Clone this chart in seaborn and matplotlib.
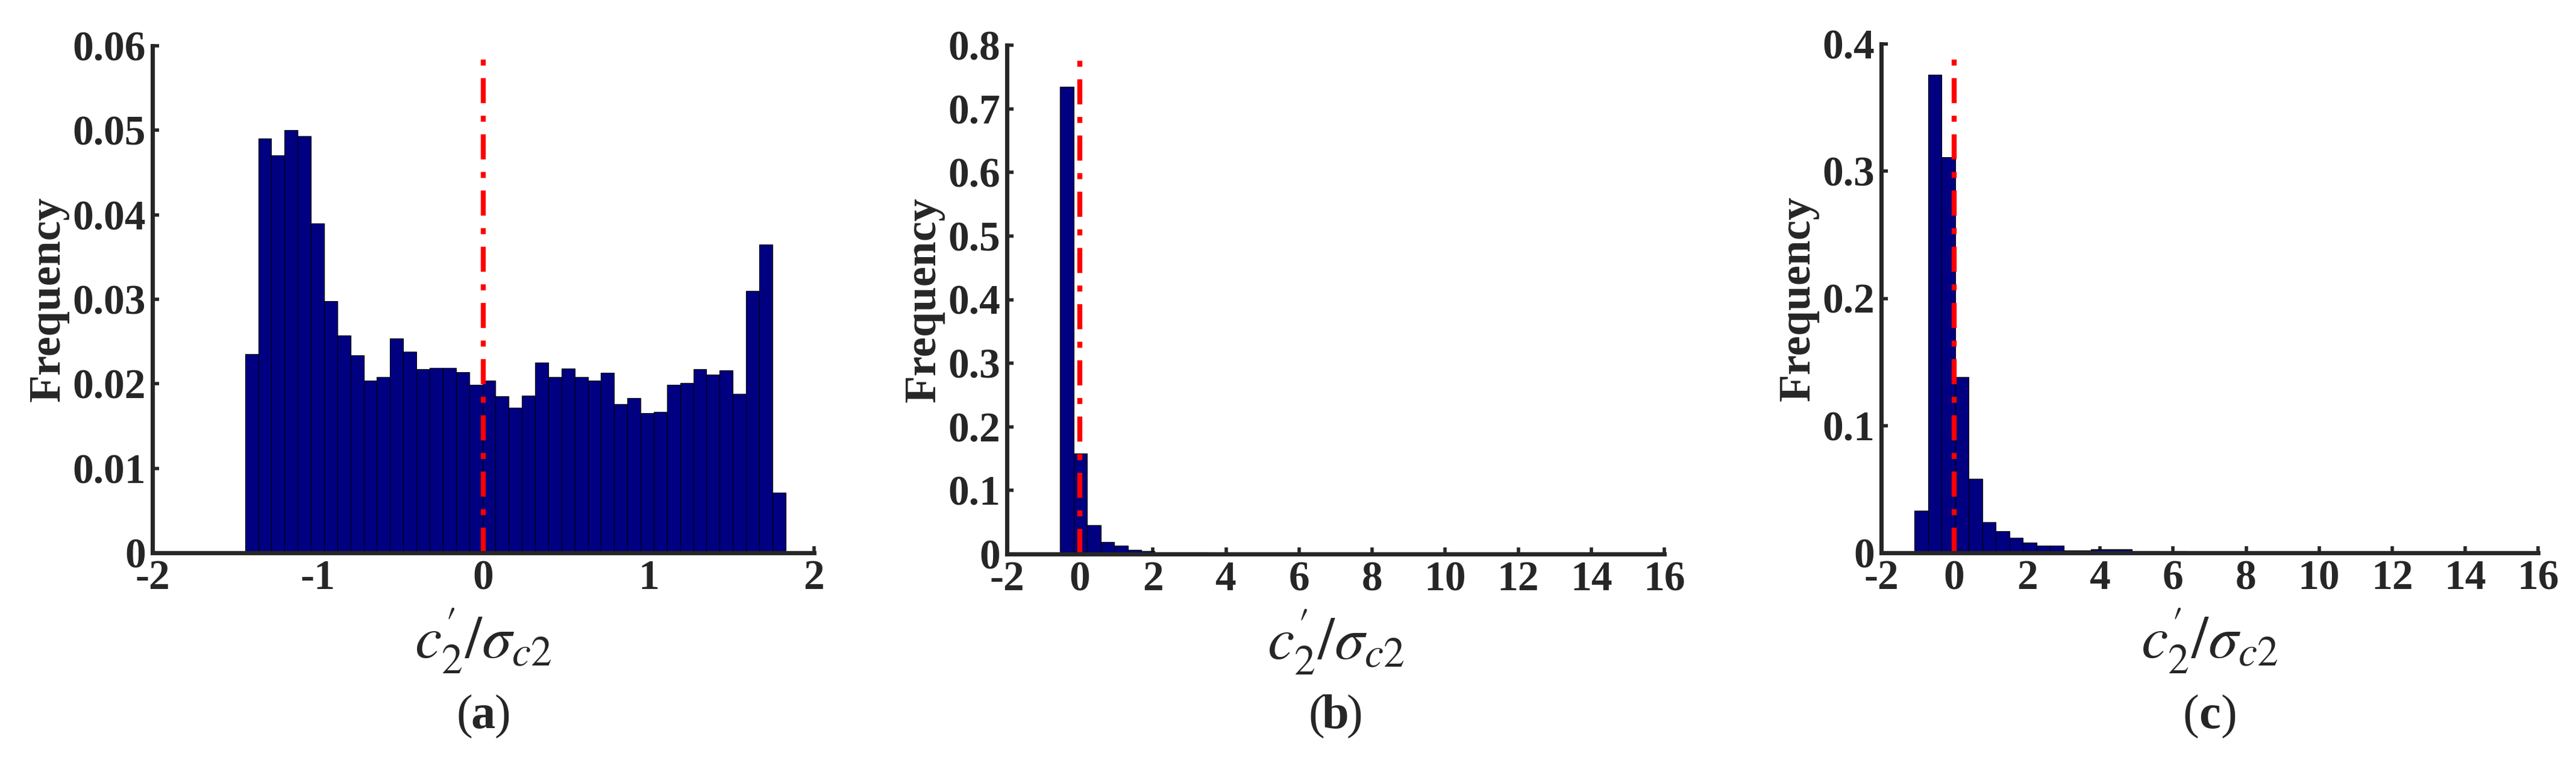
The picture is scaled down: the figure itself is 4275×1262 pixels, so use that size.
import numpy as np
import pandas as pd
import matplotlib
matplotlib.use("Agg")
import matplotlib.pyplot as plt
import seaborn as sns

sns.set_style("ticks")
plt.rcParams['font.family'] = ['Liberation Serif', 'DejaVu Serif']
plt.rcParams['mathtext.fontset'] = 'stix'

# panel (a): 41 bins from -1.44 to 1.826
a_start, a_width = -1.44, 0.0797
a_freq = [0.0235, 0.049, 0.047, 0.050, 0.0493, 0.039, 0.0298, 0.0257, 0.0234, 0.0204,
          0.0208, 0.0254, 0.0238, 0.0217, 0.0219, 0.0219, 0.0214, 0.0199, 0.0204, 0.0185,
          0.0172, 0.0186, 0.0225, 0.0208, 0.0218, 0.0208, 0.0204, 0.0213, 0.0176, 0.0183,
          0.0165, 0.0167, 0.0199, 0.0201, 0.0217, 0.0211, 0.0216, 0.0188, 0.0310, 0.0365,
          0.0071]

# panel (b): bins of width 0.37 from -0.54
b_start, b_width = -0.54, 0.37
b_freq = [0.735, 0.158, 0.045, 0.019, 0.013, 0.007, 0.005, 0.003, 0.003, 0.003,
          0.003, 0.002, 0.0015, 0.0015, 0.0012, 0.0012, 0.001, 0.001, 0.001, 0.001,
          0.001, 0.001, 0.001, 0.001, 0.001, 0.001, 0.001, 0.001, 0.001, 0.001,
          0.001, 0.001, 0.001, 0.001, 0.001, 0.001, 0.001, 0.001, 0.001, 0.001,
          0.001, 0.001, 0.001, 0.001, 0.001]

# panel (c): bins of width 0.372 from -1.09
c_start, c_width = -1.09, 0.372
c_freq = [0.033, 0.376, 0.311, 0.138, 0.058, 0.024, 0.017, 0.012, 0.008, 0.0055,
          0.0055, 0.002, 0.002, 0.003, 0.003, 0.003, 0.0015, 0.0015, 0.001, 0.0015,
          0.001, 0.001, 0.001, 0.001, 0.001, 0.001, 0.001, 0.001, 0.001, 0.001,
          0.001, 0.001, 0.001, 0.001, 0.001, 0.001, 0.001, 0.001, 0.001, 0.001,
          0.001, 0.001, 0.001, 0.001, 0.001, 0.001]

panels = [
    ("a", a_start, a_width, a_freq, (-2, 2), [-2, -1, 0, 1, 2], (0, 0.06),
     [0, 0.01, 0.02, 0.03, 0.04, 0.05, 0.06], ["0", "0.01", "0.02", "0.03", "0.04", "0.05", "0.06"], 0.059),
    ("b", b_start, b_width, b_freq, (-2, 16), list(range(-2, 17, 2)), (0, 0.8),
     [0, 0.1, 0.2, 0.3, 0.4, 0.5, 0.6, 0.7, 0.8], ["0", "0.1", "0.2", "0.3", "0.4", "0.5", "0.6", "0.7", "0.8"], 0.785),
    ("c", c_start, c_width, c_freq, (-2, 16), list(range(-2, 17, 2)), (0, 0.4),
     [0, 0.1, 0.2, 0.3, 0.4], ["0", "0.1", "0.2", "0.3", "0.4"], 0.395),
]

W, H = 4275, 1262
boxes = [(253, 76, 1351, 918), (1671, 75, 2762, 920), (3122, 73, 4212, 918)]

fig = plt.figure(figsize=(W / 100, H / 100), dpi=100)
for (lab, start, width, freq, xl, xt, yl, yt, ytl, ltop), (x0, y0, x1, y1) in zip(panels, boxes):
    ax = fig.add_axes([x0 / W, 1 - y1 / H, (x1 - x0) / W, (y1 - y0) / H])
    edges = start + width * np.arange(len(freq) + 1)
    df = pd.DataFrame({"x": (edges[:-1] + edges[1:]) / 2, "f": freq})
    sns.histplot(data=df, x="x", weights="f", bins=edges.tolist(), ax=ax, color="#000080",
                 alpha=1, edgecolor="black", linewidth=0.8)
    ax.plot([0, 0], [0, ltop], color="red", linestyle=(0, (5, 2.5, 1.2, 2.5)), linewidth=6)
    ax.set_xlim(*xl)
    ax.set_ylim(*yl)
    ax.set_xticks(xt)
    ax.set_xticklabels([str(t) for t in xt])
    ax.set_yticks(yt)
    ax.set_yticklabels(ytl)
    for s in ["top", "right"]:
        ax.spines[s].set_visible(False)
    for s in ["left", "bottom"]:
        ax.spines[s].set_linewidth(5)
    ax.tick_params(direction="in", length=8, width=4, labelsize=50, pad=8)
    for t in ax.get_xticklabels() + ax.get_yticklabels():
        t.set_fontweight("bold")
    ax.set_ylabel("Frequency", fontsize=54, fontweight="bold", labelpad=4)
    ax.set_xlabel(r"$c_2^{\prime}/\sigma_{c2}$", fontsize=72, labelpad=10)
    cx = (x0 + x1) / 2 / W
    cy = 1 - 1190 / H
    d = 18 / W
    fig.text(cx - d, cy, "(", ha="right", va="center", fontsize=58)
    fig.text(cx, cy, lab, ha="center", va="center", fontsize=58, fontweight="bold")
    fig.text(cx + d, cy, ")", ha="left", va="center", fontsize=58)

fig.savefig("out.png", dpi=100)
